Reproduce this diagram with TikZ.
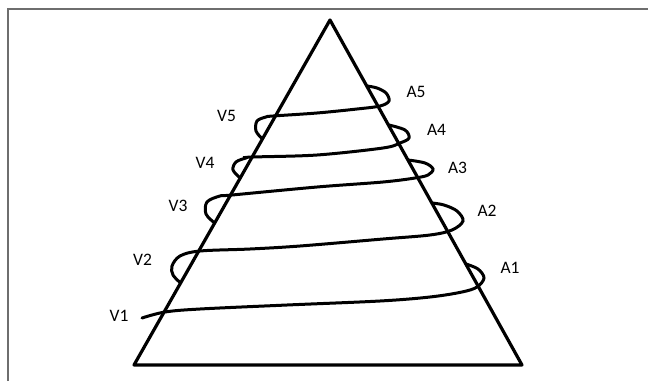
\documentclass[tikz,border=0pt]{standalone}
\usepackage{fontspec}
\setmainfont{Carlito}
\definecolor{framegray}{RGB}{110,110,110}
\begin{document}
\begin{tikzpicture}[x=1pt,y=-1pt,
  edge/.style={line width=3.2pt,line cap=round,line join=round},
  coil/.style={line width=3pt,line cap=round},
  lbl/.style={font=\fontsize{17.5}{20}\selectfont,inner sep=0pt}]
\useasboundingbox (0,0) rectangle (648,381);
% frame (cropped screenshot border)
\draw[framegray,line width=1.6pt] (8,381) -- (8,9) -- (648,9);
% pyramid
\coordinate (apex) at (330,20);
\coordinate (bl) at (134,365);
\coordinate (br) at (522,365);
\draw[edge] (bl) -- (apex) -- (br) -- cycle;
% spiral (front pieces)
\draw[coil] plot[smooth,tension=0.55] coordinates {(142,318) (165,312) (200,309) (287,305) (380,301) (430,297) (462,292) (477,287) (484,278) (478,269) (466,264)};
\draw[coil] plot[smooth,tension=0.55] coordinates {(180.6,283) (173,275) (172,266) (180,256) (200,251) (250,249) (300,246) (383,239) (430,235) (452,230) (463,221) (457,211) (444,205) (432,203)};
\draw[coil] plot[smooth,tension=0.55] coordinates {(214.7,223) (206,214) (207,202) (220,196) (232,195) (317,187) (383,182) (415,178) (428,175) (433,169) (425,163) (408,160)};
\draw[coil] plot[smooth,tension=0.55] coordinates {(240.3,178) (233,170) (236,162) (246,158) (253,157) (317,155) (383,148) (400,143) (409,138) (405,130) (389,125)};
\draw[coil] plot[smooth,tension=0.55] coordinates {(262.4,139) (256,131) (257,121) (266,117) (273,116) (317,113) (357,109) (380,106) (389,101) (386,93) (377,88) (367,86)};
% labels
\node[lbl] (v1) at (119,316) {V1};
\node[lbl] (v2) at (142.5,259.5) {V2};
\node[lbl] (v3) at (178,205.5) {V3};
\node[lbl] (v4) at (205,163) {V4};
\node[lbl] (v5) at (226.5,115.5) {V5};
\node[lbl] (a1) at (510,267.5) {A1};
\node[lbl] (a2) at (487,211) {A2};
\node[lbl] (a3) at (457.5,168) {A3};
\node[lbl] (a4) at (436.5,130) {A4};
\node[lbl] (a5) at (416,91.5) {A5};
\end{tikzpicture}
\end{document}
